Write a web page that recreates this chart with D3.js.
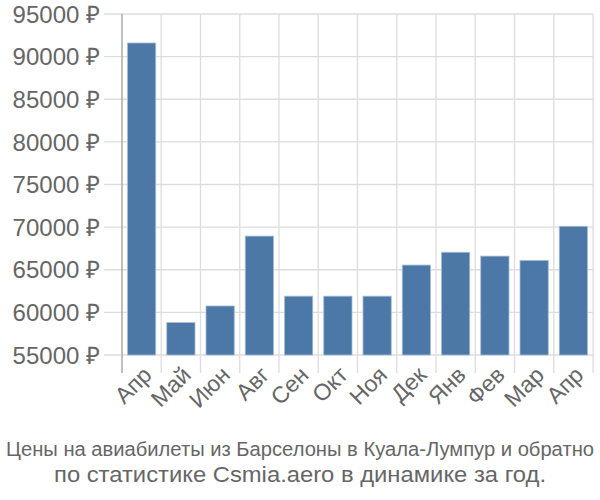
<!DOCTYPE html>
<html><head><meta charset="utf-8">
<script src="https://cdn.jsdelivr.net/npm/d3@7"></script>
<style>body{margin:0;background:#fff}</style>
</head><body>
<svg id="c" width="600" height="500"></svg>
<script>
const months = ["Апр","Май","Июн","Авг","Сен","Окт","Ноя","Дек","Янв","Фев","Мар","Апр"];
const prices = [91600,58800,60750,68950,61900,61900,61900,65550,67050,66600,66100,70100];
const yTicks = [55000,60000,65000,70000,75000,80000,85000,90000,95000];
const titleLines = ["Цены на авиабилеты из Барселоны в Куала-Лумпур и обратно","по статистике Csmia.aero в динамике за год."];

const svg = d3.select("#c");
const m = {l:122, r:593, t:14, b:355};
const keys = months.map((d,i)=>i);
const x = d3.scaleBand().domain(keys).range([m.l,m.r]).paddingInner(0.28).paddingOuter(0.14);
const xg = d3.scaleBand().domain(keys).range([m.l,m.r]);
const y = d3.scaleLinear().domain([55000,95000]).range([m.b,m.t]);

svg.append("g").selectAll("line").data(yTicks).join("line")
  .attr("x1",m.l-18).attr("x2",m.r).attr("y1",d=>y(d)).attr("y2",d=>y(d))
  .attr("stroke","#ddd").attr("stroke-width",1.3);
svg.append("g").selectAll("line").data(keys.slice(1).concat([12])).join("line")
  .attr("x1",d=>m.l+d*xg.step()).attr("x2",d=>m.l+d*xg.step())
  .attr("y1",m.t).attr("y2",m.b+18)
  .attr("stroke","#ddd").attr("stroke-width",1.3);
svg.append("line").attr("x1",m.l).attr("x2",m.l).attr("y1",m.t).attr("y2",m.b+18)
  .attr("stroke","#aaa").attr("stroke-width",1.5);

svg.append("g").selectAll("rect").data(prices).join("rect")
  .attr("x",(d,i)=>x(i)).attr("width",x.bandwidth())
  .attr("y",d=>y(d)).attr("height",d=>y(55000)-y(d))
  .attr("fill","#4c78a8").attr("stroke","#a7bdd6").attr("stroke-width",0.8);

svg.append("g").selectAll("text").data(yTicks).join("text")
  .attr("x",100).attr("y",d=>y(d)).attr("dy","0.36em")
  .attr("text-anchor","end").attr("fill","#666")
  .style("font-family","'Liberation Sans', Arial, sans-serif").style("font-size","24px")
  .text(d=>d+" ₽");

svg.append("g").selectAll("text").data(months).join("text")
  .attr("transform",(d,i)=>`translate(${x(i)+x.bandwidth()/2},${m.b+10}) rotate(-45)`)
  .attr("text-anchor","end").attr("dy","0.7em").attr("fill","#666")
  .style("font-family","'Liberation Sans', Arial, sans-serif").style("font-size","23px")
  .text(d=>d);

svg.append("g").selectAll("text").data(titleLines).join("text")
  .attr("x",300).attr("y",(d,i)=>456+i*26).attr("text-anchor","middle")
  .attr("fill","#666")
  .attr("textLength",(d,i)=>i===0?588:492).attr("lengthAdjust","spacingAndGlyphs")
  .style("font-family","'Liberation Sans', sans-serif").style("font-size",(d,i)=>i===0?"20px":"22px")
  .text(d=>d);
</script>
</body></html>
